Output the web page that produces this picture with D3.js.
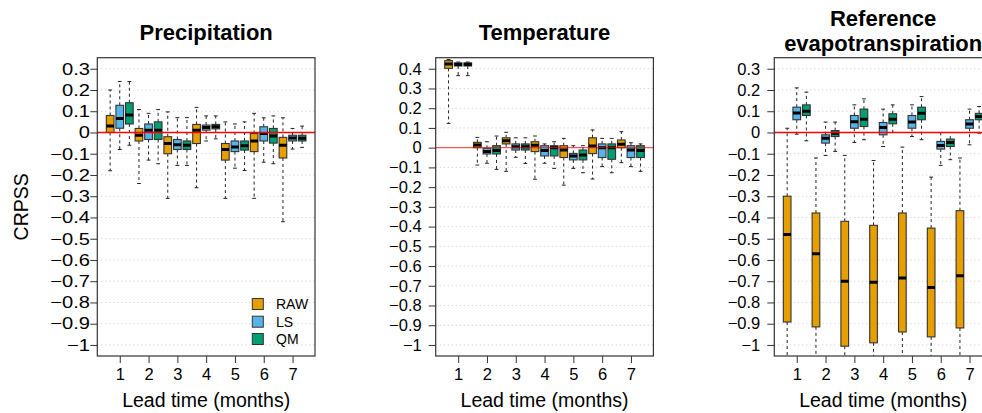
<!DOCTYPE html>
<html><head><meta charset="utf-8">
<script src="https://cdn.jsdelivr.net/npm/d3@7"></script>
<style>
body{margin:0;background:#fff}
svg{display:block}
text{font-family:"Liberation Sans",Arial,Helvetica,sans-serif;fill:#000}
</style>
</head><body>
<svg id="chart" width="982" height="413"></svg>
<script>
// ---------- data ----------
const leadTimes = [1, 2, 3, 4, 5, 6, 7];
const methods = ["RAW", "LS", "QM"];
const methodColors = ["#E69F00", "#56B4E9", "#009E73"];
const panelTitles = [["Precipitation"], ["Temperature"], ["Reference", "evapotranspiration"]];
const yTicksPrecipET = [0.3, 0.2, 0.1, 0, -0.1, -0.2, -0.3, -0.4, -0.5, -0.6, -0.7, -0.8, -0.9, -1];
const yTicksTemp = [0.4, 0.3, 0.2, 0.1, 0, -0.1, -0.2, -0.3, -0.4, -0.5, -0.6, -0.7, -0.8, -0.9, -1];
const xLabel = "Lead time (months)";
const yLabel = "CRPSS";

// box statistics per lead time: [lower whisker, Q1, median, Q3, upper whisker]
const precipRAW = [[-0.18,0.0,0.03,0.08,0.20],[-0.24,-0.04,-0.013,0.019,0.108],[-0.31,-0.10,-0.052,-0.02,0.097],[-0.26,-0.052,0.011,0.038,0.118],[-0.31,-0.13,-0.08,-0.052,0.05],[-0.31,-0.09,-0.04,-0.005,0.09],[-0.42,-0.12,-0.06,-0.023,0.069]];
const precipLS  = [[-0.08,0.02,0.066,0.128,0.24],[-0.13,-0.033,0.011,0.04,0.09],[-0.155,-0.08,-0.058,-0.033,0.07],[-0.04,0.011,0.023,0.035,0.078],[-0.168,-0.09,-0.068,-0.04,0.04],[-0.14,-0.04,-0.005,0.027,0.069],[-0.078,-0.04,-0.026,-0.013,0.019]];
const precipQM  = [[-0.06,0.04,0.082,0.14,0.24],[-0.147,-0.033,0.01,0.05,0.108],[-0.155,-0.08,-0.06,-0.04,0.07],[-0.03,0.017,0.027,0.038,0.078],[-0.179,-0.083,-0.063,-0.04,0.05],[-0.147,-0.05,-0.016,0.019,0.078],[-0.07,-0.04,-0.027,-0.013,0.03]];

const tempRAW = [[0.123,0.402,0.424,0.441,0.447],[-0.088,0.0,0.014,0.027,0.052],[-0.12,0.019,0.035,0.05,0.078],[-0.16,-0.02,0.012,0.03,0.059],[-0.19,-0.05,-0.012,0.01,0.047],[-0.159,-0.03,0.008,0.05,0.09],[-0.076,0.0,0.017,0.039,0.081]];
const tempLS  = [[0.365,0.414,0.422,0.43,0.434],[-0.079,-0.032,-0.02,-0.003,0.03],[-0.049,-0.012,0.005,0.019,0.05],[-0.079,-0.042,-0.015,0.01,0.019],[-0.105,-0.062,-0.042,-0.029,0.01],[-0.096,-0.05,0.0,0.019,0.047],[-0.096,-0.05,-0.012,0.01,0.025]];
const tempQM  = [[0.365,0.414,0.422,0.43,0.434],[-0.11,-0.032,-0.015,0.01,0.059],[-0.08,-0.012,0.005,0.019,0.05],[-0.105,-0.042,0.0,0.01,0.03],[-0.127,-0.062,-0.037,-0.012,0.01],[-0.127,-0.059,0.0,0.019,0.047],[-0.12,-0.05,-0.015,0.01,0.019]];

const etRAW = [[-1.4,-0.892,-0.48,-0.30,0.02],[-1.4,-0.915,-0.571,-0.379,-0.12],[-1.4,-1.006,-0.70,-0.418,-0.108],[-1.4,-0.99,-0.705,-0.437,-0.132],[-1.4,-0.939,-0.685,-0.379,-0.069],[-1.4,-0.962,-0.73,-0.45,-0.21],[-1.4,-0.92,-0.674,-0.368,-0.12]];
const etLS  = [[-0.008,0.06,0.092,0.119,0.21],[-0.108,-0.05,-0.027,-0.011,0.049],[-0.047,0.02,0.05,0.08,0.13],[-0.066,-0.011,0.024,0.047,0.11],[-0.019,0.02,0.049,0.08,0.13],[-0.155,-0.078,-0.061,-0.042,0.0],[-0.058,0.02,0.04,0.06,0.11]];
const etQM  = [[-0.039,0.08,0.1,0.13,0.19],[-0.089,-0.019,-0.004,0.009,0.049],[-0.034,0.028,0.062,0.11,0.158],[0.0,0.041,0.062,0.088,0.13],[-0.034,0.06,0.09,0.119,0.169],[-0.128,-0.066,-0.047,-0.031,0.0],[-0.003,0.06,0.075,0.09,0.122]];

// ---------- layout ----------
const panels = [
  {series:[precipRAW,precipLS,precipQM], ticks:yTicksPrecipET, ydom:[-1.052,0.352], left:97.3, title:panelTitles[0], legend:true, ylab:true, redOpacity:1, labelEnd:7.3, labelStretch:1.22},
  {series:[tempRAW,tempLS,tempQM], ticks:yTicksTemp, ydom:[-1.056,0.456], left:435.7, title:panelTitles[1], legend:false, ylab:false, redOpacity:0.65, labelEnd:14, labelStretch:1},
  {series:[etRAW,etLS,etQM], ticks:yTicksPrecipET, ydom:[-1.052,0.352], left:774.3, title:panelTitles[2], legend:false, ylab:false, redOpacity:1, labelEnd:14, labelStretch:1}
];
const plotW = 217.7, plotTop = 57.7, plotBottom = 356;
const xDom = [0.22, 7.78];
const groupOffset = 1/3, boxWidthUnits = 0.8/3;
const fmt = d => d === 0 ? "0" : (d < 0 ? "\u2212" : "") + String(+Math.abs(d).toFixed(1));
const FONT = '"Liberation Sans",Arial,Helvetica,sans-serif';

const svg = d3.select("#chart");

panels.forEach((p, pi) => {
  const x = d3.scaleLinear().domain(xDom).range([p.left, p.left + plotW]);
  const y = d3.scaleLinear().domain(p.ydom).range([plotBottom, plotTop]);
  const g = svg.append("g");
  const clipId = "clip" + pi;
  svg.append("clipPath").attr("id", clipId).append("rect")
    .attr("x", p.left).attr("y", plotTop).attr("width", plotW).attr("height", plotBottom - plotTop);

  // grid
  g.append("g").selectAll("line").data(p.ticks).join("line")
    .attr("x1", p.left).attr("x2", p.left + plotW)
    .attr("y1", d => y(d)).attr("y2", d => y(d))
    .attr("stroke", "#c8c8c8").attr("stroke-width", 1).attr("stroke-dasharray", "1,3");

  // boxes
  const bw = x(boxWidthUnits) - x(0);
  const boxes = g.append("g").attr("clip-path", `url(#${clipId})`);
  p.series.forEach((ser, mi) => {
    ser.forEach((s, li) => {
      const cx = x(leadTimes[li] + (mi - 1) * groupOffset);
      const [lo, q1, med, q3, hi] = s;
      const bg = boxes.append("g");
      bg.append("line").attr("x1", cx).attr("x2", cx).attr("y1", y(q3)).attr("y2", y(hi))
        .attr("stroke", "#222").attr("stroke-width", 1).attr("stroke-dasharray", "3,3");
      bg.append("line").attr("x1", cx).attr("x2", cx).attr("y1", y(q1)).attr("y2", y(lo))
        .attr("stroke", "#222").attr("stroke-width", 1).attr("stroke-dasharray", "3,3");
      [lo, hi].forEach(v => {
        bg.append("line").attr("x1", cx - bw / 4).attr("x2", cx + bw / 4)
          .attr("y1", y(v)).attr("y2", y(v)).attr("stroke", "#222").attr("stroke-width", 1);
      });
      bg.append("rect").attr("x", cx - bw / 2).attr("width", bw)
        .attr("y", y(q3)).attr("height", Math.max(0.5, y(q1) - y(q3)))
        .attr("fill", methodColors[mi]).attr("stroke", "#333").attr("stroke-width", 1.1);
      bg.append("line").attr("x1", cx - bw / 2).attr("x2", cx + bw / 2)
        .attr("y1", y(med)).attr("y2", y(med)).attr("stroke", "#000").attr("stroke-width", 3);
    });
  });

  // zero line
  g.append("line").attr("x1", p.left).attr("x2", p.left + plotW)
    .attr("y1", y(0)).attr("y2", y(0))
    .attr("stroke", "#ff0000").attr("stroke-opacity", p.redOpacity).attr("stroke-width", 1.3);

  // frame
  g.append("rect").attr("x", p.left).attr("y", plotTop).attr("width", plotW).attr("height", plotBottom - plotTop)
    .attr("fill", "none").attr("stroke", "#333").attr("stroke-width", 1.2);

  // y axis
  const ya = g.append("g").attr("transform", `translate(${p.left},0)`)
    .call(d3.axisLeft(y).tickValues(p.ticks).tickFormat(fmt).tickSize(7).tickPadding(7));
  ya.select(".domain").remove();
  ya.selectAll(".tick line").attr("stroke", "#333");
  ya.selectAll("text").style("font-size", "16.5px").attr("fill", "#000").style("font-family", FONT)
    .attr("x", 0).attr("transform", `translate(${-p.labelEnd},0) scale(${p.labelStretch},1)`);

  // x axis
  const xa = g.append("g").attr("transform", `translate(0,${plotBottom})`)
    .call(d3.axisBottom(x).tickValues(leadTimes).tickFormat(d3.format("d")).tickSize(7).tickPadding(5));
  xa.select(".domain").remove();
  xa.selectAll(".tick line").attr("stroke", "#333");
  xa.selectAll("text").style("font-size", "16.5px").attr("fill", "#000").style("font-family", FONT);

  // x label
  g.append("text").attr("x", p.left + plotW / 2).attr("y", 407).attr("text-anchor", "middle")
    .style("font-size", "19.5px").text(xLabel);

  // title
  const cx0 = p.left + plotW / 2;
  if (p.title.length === 1) {
    g.append("text").attr("x", cx0).attr("y", 39.5).attr("text-anchor", "middle")
      .style("font-size", "22px").style("font-weight", "bold").text(p.title[0]);
  } else {
    g.append("text").attr("x", cx0).attr("y", 25.5).attr("text-anchor", "middle")
      .style("font-size", "22px").style("font-weight", "bold").text(p.title[0]);
    g.append("text").attr("x", cx0).attr("y", 51).attr("text-anchor", "middle")
      .style("font-size", "22px").style("font-weight", "bold").text(p.title[1]);
  }

  // y label
  if (p.ylab) {
    g.append("text").attr("transform", `translate(28,${(plotTop + plotBottom) / 2}) rotate(-90)`)
      .attr("text-anchor", "middle").style("font-size", "19.5px").text(yLabel);
  }

  // legend
  if (p.legend) {
    const lg = g.append("g");
    const ly = [304, 321.7, 339];
    methods.forEach((m, i) => {
      lg.append("rect").attr("x", 252.3).attr("y", ly[i] - 5.5).attr("width", 11).attr("height", 11)
        .attr("fill", methodColors[i]).attr("stroke", "#333").attr("stroke-width", 1);
      lg.append("text").attr("x", 276).attr("y", ly[i] + 5).style("font-size", "14px").text(m);
    });
  }
});
</script>
</body></html>
